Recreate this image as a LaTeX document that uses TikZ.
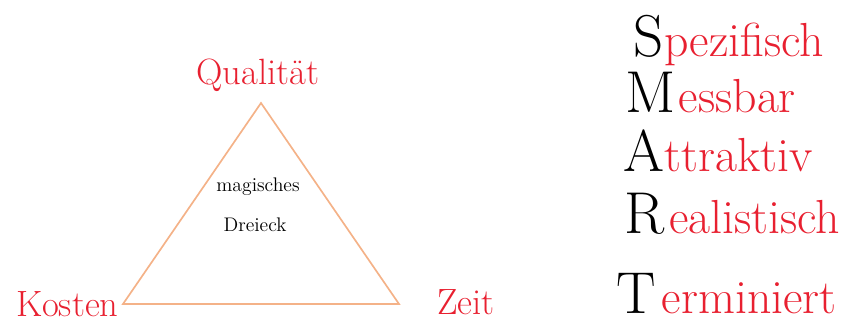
\documentclass[tikz,border=0pt]{standalone}
\usepackage{tikz}
\usetikzlibrary{positioning}

\definecolor{inkred}{RGB}{232,32,48}
\definecolor{triorange}{RGB}{244,178,136}

\tikzset{
  corner/.style={text=inkred, font=\fontsize{26}{30}\selectfont},
  inner/.style={font=\fontsize{14}{17}\selectfont},
  initial/.style={anchor=base west, inner sep=0pt, font=\fontsize{42}{48}\selectfont},
  rest/.style={anchor=base west, inner sep=0pt, text=inkred, font=\fontsize{34}{40}\selectfont},
}

\begin{document}
\begin{tikzpicture}[x=0.025cm, y=-0.025cm]
\useasboundingbox (0,0) rectangle (868,327);
% magic triangle
\coordinate (Q) at (261,103); \coordinate (K) at (123,304); \coordinate (Z) at (399,304);
\draw[triorange, line width=1.2pt] (K)--(Z)--(Q)--cycle;
\node[corner] (qual) at (258,75) {Qualität};
\node[corner, anchor=east, inner sep=3pt] (kosten) at (K) {Kosten};
\node[corner] (zeit) at (466,302) {Zeit};
\node[inner] (mag) at (258,187) {magisches};
\node[inner] (drei) at (255,225) {Dreieck};
% SMART
\node[initial] (S) at (633,57) {S};   \node[rest] (s2) at (S.base east) {pezifisch};
\node[initial] (M) at (625,113) {M};  \node[rest, xshift=2pt] (m2) at (M.base east) {essbar};
\node[initial] (A) at (623,172) {A};  \node[rest] (a2) at (A.base east) {ttraktiv};
\node[initial] (R) at (624,234) {R};  \node[rest, xshift=3pt] (r2) at (R.base east) {ealistisch};
\node[initial] (T) at (616,314) {T};  \node[rest, xshift=4pt] (t2) at (T.base east) {erminiert};
\end{tikzpicture}
\end{document}
